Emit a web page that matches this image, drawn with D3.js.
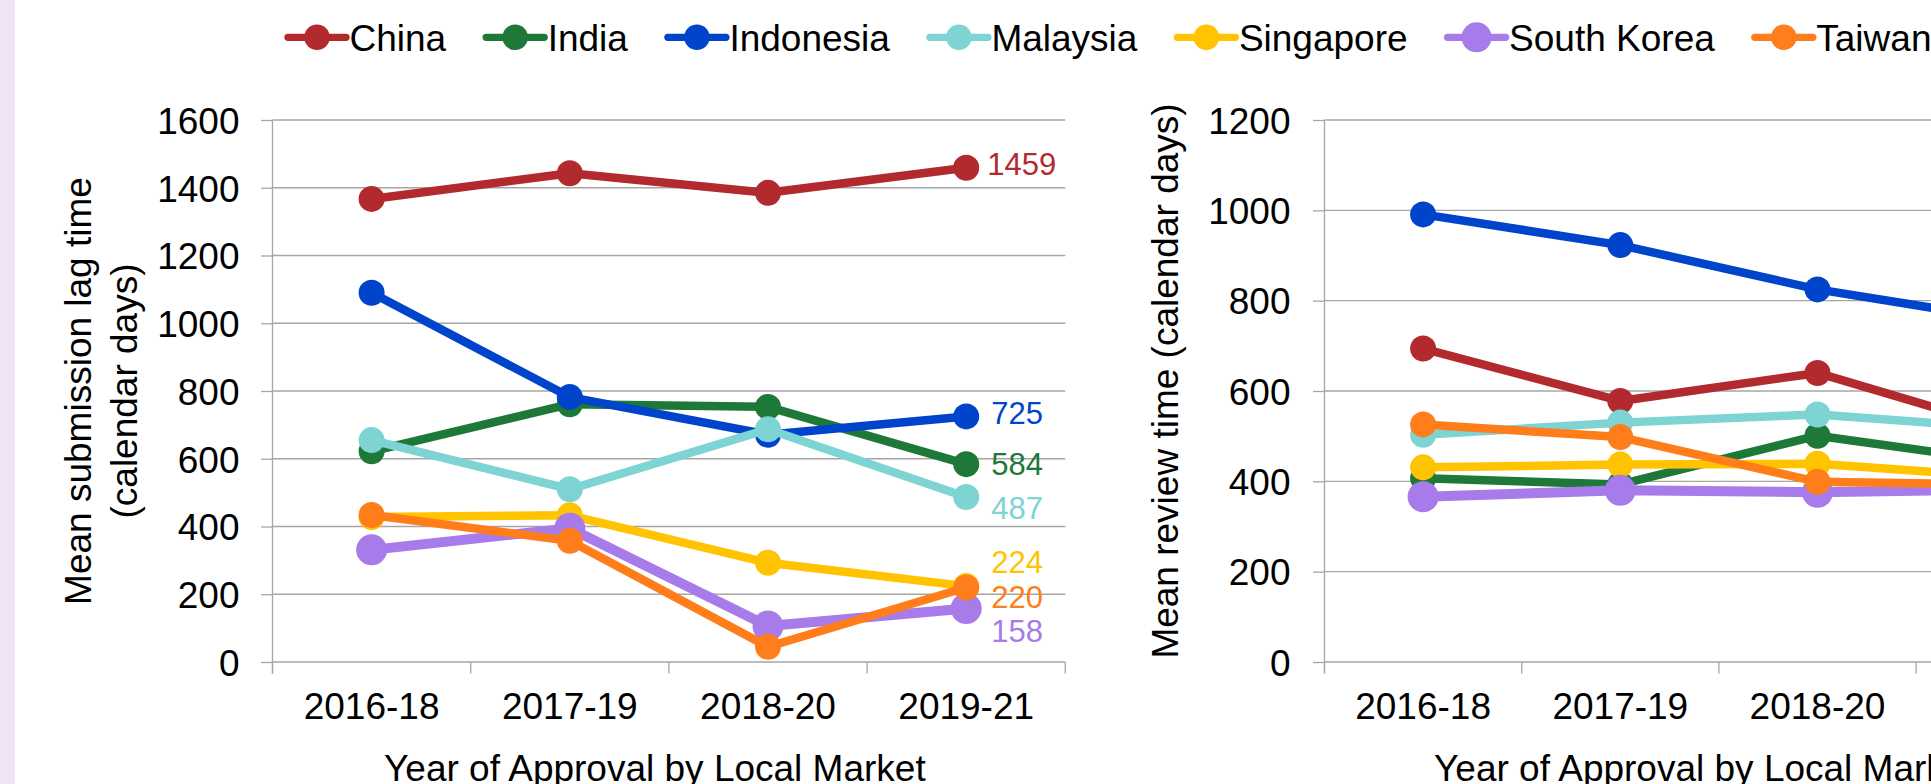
<!DOCTYPE html>
<html>
<head>
<meta charset="utf-8">
<script src="https://cdn.jsdelivr.net/npm/d3@7/dist/d3.min.js"></script>
<style>
    body { margin: 0; background: #fff; }
    svg { display: block; font-family: "Liberation Sans", Arial, sans-serif; }
</style>
</head>
<body>
<div id="chart"></div>
<script>
// categories and series
const periods = ["2016-18", "2017-19", "2018-20", "2019-21"];
const markets = ["China", "India", "Indonesia", "Malaysia", "Singapore", "South Korea", "Taiwan"];
const colors = ["#b22a2e", "#1e7837", "#0044cc", "#7dd4d2", "#ffc300", "#a77be9", "#ff7d1a"];

// mean submission lag time (left panel)
const lagChina = [1367, 1443, 1385, 1459];
const lagIndia = [622, 761, 753, 584];
const lagIndonesia = [1090, 782, 671, 725];
const lagMalaysia = [655, 510, 687, 487];
const lagSingapore = [428, 433, 293, 224];
const lagSouthKorea = [331, 395, 106, 158];
const lagTaiwan = [434, 358, 45, 220];
const lagTicks = [0, 200, 400, 600, 800, 1000, 1200, 1400, 1600];

// mean review time (right panel)
const reviewChina = [694, 578, 640, 511];
const reviewIndia = [407, 393, 501, 440];
const reviewIndonesia = [991, 923, 825, 755];
const reviewMalaysia = [503, 530, 548, 516];
const reviewSingapore = [431, 437, 439, 408];
const reviewSouthKorea = [366, 380, 376, 382];
const reviewTaiwan = [526, 498, 399, 392];
const reviewTicks = [0, 200, 400, 600, 800, 1000, 1200];

const lagSeries = [lagChina, lagIndia, lagIndonesia, lagMalaysia, lagSingapore, lagSouthKorea, lagTaiwan];
const reviewSeries = [reviewChina, reviewIndia, reviewIndonesia, reviewMalaysia, reviewSingapore, reviewSouthKorea, reviewTaiwan];

// end label nudges (dx, dy) so the labels don't sit on each other
const labelNudge = {
    "China": [21, 7], "India": [25, 11], "Indonesia": [25, 7.6], "Malaysia": [25, 21.7],
    "Singapore": [25, -12.8], "South Korea": [25, 33.4], "Taiwan": [25, 20.4]
};

const W = 1931, H = 784;
const FONT = 37;
const GRID = "#a6a6a6";

const svg = d3.select("#chart").append("svg")
    .attr("width", W)
    .attr("height", H);

svg.append("rect").attr("width", W).attr("height", H).attr("fill", "#fff");
// lavender strip at the left edge
svg.append("rect").attr("width", 15).attr("height", H).attr("fill", "#efe5f5");

function drawPanel(cfg) {
    const g = svg.append("g");
    const x = d3.scaleBand().domain(periods).range([cfg.left, cfg.left + 4 * cfg.band]);
    const y = d3.scaleLinear().domain([0, cfg.max]).range([662, 120]);
    const right = x.range()[1];
    const cx = p => x(p) + x.bandwidth() / 2;

    // gridlines
    g.selectAll(".grid").data(cfg.ticks).join("line")
        .attr("class", "grid")
        .attr("x1", cfg.left).attr("x2", right)
        .attr("y1", d => y(d)).attr("y2", d => y(d))
        .attr("stroke", GRID).attr("stroke-width", 1.3);

    // y axis (ticks + labels)
    const yAxis = g.append("g")
        .attr("transform", `translate(${cfg.left},0)`)
        .call(d3.axisLeft(y).tickValues(cfg.ticks).tickFormat(d3.format("d"))
            .tickSize(11.5).tickSizeOuter(0).tickPadding(cfg.labelPad));
    yAxis.select(".domain").remove();
    yAxis.selectAll("line").attr("stroke", GRID).attr("stroke-width", 1.3);
    yAxis.selectAll("text").attr("font-size", FONT).attr("font-family", null).attr("fill", "#000").attr("dy", "0.36em");

    // vertical axis line
    g.append("line")
        .attr("x1", cfg.left).attr("x2", cfg.left)
        .attr("y1", y(cfg.max)).attr("y2", y(0) + 11.5)
        .attr("stroke", GRID).attr("stroke-width", 1.3);

    // x ticks sit on the band edges
    const edges = periods.map(p => x(p)).concat([right]);
    g.selectAll(".xtick").data(edges).join("line")
        .attr("class", "xtick")
        .attr("x1", d => d).attr("x2", d => d)
        .attr("y1", y(0)).attr("y2", y(0) + 11.5)
        .attr("stroke", GRID).attr("stroke-width", 1.3);

    // x labels
    const xAxis = g.append("g")
        .attr("transform", `translate(0,${y(0)})`)
        .call(d3.axisBottom(x).tickSize(0).tickPadding(30.5));
    xAxis.select(".domain").remove();
    xAxis.selectAll("text").attr("font-size", FONT).attr("font-family", null).attr("fill", "#000");

    // axis titles
    g.append("text")
        .attr("x", (cfg.left + right) / 2 - 14).attr("y", 781)
        .attr("text-anchor", "middle").attr("font-size", FONT)
        .text("Year of Approval by Local Market");

    cfg.yTitle.forEach((line, i) => {
        g.append("text")
            .attr("transform", `translate(${cfg.yTitleX + i * 46.4},${cfg.yTitleY}) rotate(-90)`)
            .attr("text-anchor", "middle").attr("font-size", FONT)
            .text(line);
    });

    // series: line then markers, in legend order
    cfg.series.forEach((vals, i) => {
        const pts = periods.map((p, j) => ({ p: p, v: vals[j] }));
        const big = markets[i] === "South Korea";
        g.append("path").datum(pts)
            .attr("d", d3.line().x(d => cx(d.p)).y(d => y(d.v)))
            .attr("fill", "none")
            .attr("stroke", colors[i])
            .attr("stroke-width", big ? 10 : 8.5)
            .attr("stroke-linejoin", "round");
        g.selectAll(null).data(pts).join("circle")
            .attr("cx", d => cx(d.p))
            .attr("cy", d => y(d.v))
            .attr("r", big ? 15.5 : 13)
            .attr("fill", colors[i]);

        if (cfg.endLabels) {
            const last = pts[pts.length - 1];
            const n = labelNudge[markets[i]];
            g.append("text")
                .attr("x", cx(last.p) + n[0])
                .attr("y", y(last.v) + n[1])
                .attr("font-size", 31)
                .attr("fill", colors[i])
                .text(last.v);
        }
    });
}

drawPanel({
    left: 272.5, band: 198.2, max: 1600, ticks: lagTicks, series: lagSeries,
    labelPad: 21.5, endLabels: true,
    yTitle: ["Mean submission lag time", "(calendar days)"], yTitleX: 90.7, yTitleY: 391
});

drawPanel({
    left: 1324.5, band: 197.2, max: 1200, ticks: reviewTicks, series: reviewSeries,
    labelPad: 22.5, endLabels: false,
    yTitle: ["Mean review time (calendar days)"], yTitleX: 1178, yTitleY: 381
});

// legend across the top
const legend = svg.append("g").attr("transform", "translate(288,37.3)");
let lx = 0;
markets.forEach((m, i) => {
    const item = legend.append("g").attr("transform", `translate(${lx},0)`);
    item.append("line")
        .attr("x1", 0).attr("x2", 58)
        .attr("stroke", colors[i]).attr("stroke-width", 7.3).attr("stroke-linecap", "round");
    item.append("circle")
        .attr("cx", 29).attr("r", m === "South Korea" ? 15 : 12.8)
        .attr("fill", colors[i]);
    const t = item.append("text")
        .attr("x", 61.5).attr("dy", "0.36em")
        .attr("font-size", FONT)
        .text(m);
    lx += 61.5 + t.node().getComputedTextLength() + 40;
});
</script>
</body>
</html>
